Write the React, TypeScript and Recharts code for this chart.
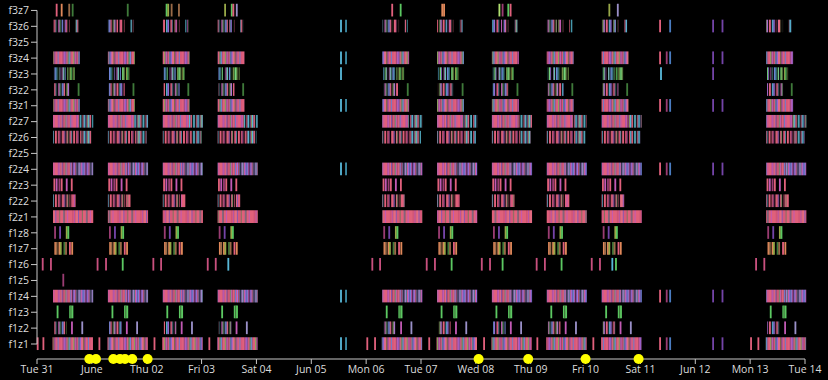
import React from "react";
import { ScatterChart, Scatter, XAxis, YAxis, ReferenceArea, ReferenceLine } from "recharts";

// rows from bottom (index 0) to top
const rowNames = [
  "f1z1", "f1z2", "f1z3", "f1z4", "f1z5", "f1z6", "f1z7", "f1z8",
  "f2z1", "f2z2", "f2z3", "f2z4", "f2z5", "f2z6", "f2z7",
  "f3z1", "f3z2", "f3z3", "f3z4", "f3z5", "f3z6", "f3z7",
];

// x axis: hours since Tue 31 00:00
const dayLabels = [
  "Tue 31", "June", "Thu 02", "Fri 03", "Sat 04", "Jun 05", "Mon 06", "Tue 07",
  "Wed 08", "Thu 09", "Fri 10", "Sat 11", "Jun 12", "Mon 13", "Tue 14",
];
const workDays = [0, 1, 2, 3, 6, 7, 8, 9, 10, 13];

// busy spans repeated on every work day: [row, startHour, endHour, texture]
const dailyBlocks: [string, number, number, string][] = [
  ["f3z6", 7.0, 11.5, "mixgap"], ["f3z6", 12.1, 13.3, "mix"], ["f3z6", 13.9, 14.4, "pinkgap"], ["f3z6", 16.9, 18.2, "cyanmix"],
  ["f3z4", 7.0, 18.8, "mix"],
  ["f3z3", 7.4, 9.3, "cool"], ["f3z3", 9.8, 12.7, "cool"], ["f3z3", 13.2, 16.6, "green"],
  ["f3z2", 7.4, 14.4, "mixgap"],
  ["f3z1", 7.0, 18.8, "mix"],
  ["f2z7", 7.0, 18.5, "pinkmix"], ["f2z7", 18.5, 24.6, "cyanmix"],
  ["f2z6", 7.0, 19.5, "pinkgap"], ["f2z6", 19.5, 24.0, "cyanmix"],
  ["f2z4", 7.0, 15.5, "pinkmix"], ["f2z4", 15.5, 24.6, "violet"],
  ["f2z2", 7.0, 14.6, "pinkgap"], ["f2z2", 15.0, 16.9, "pink"],
  ["f2z1", 7.0, 24.6, "pink"],
  ["f1z4", 7.0, 15.5, "pinkmix"], ["f1z4", 15.5, 24.6, "violet"],
  ["f1z2", 7.5, 13.0, "mixgap"],
  ["f1z1", 6.8, 24.5, "mix"],
];

// single events repeated on every work day: [row, hour, kind]
const dailyTicks: [string, number, string][] = [
  ["f3z2", 18.2, "dg"],
  ["f2z3", 7.6, "pk"], ["f2z3", 8.6, "mg"], ["f2z3", 9.8, "dp"], ["f2z3", 10.8, "pk"], ["f2z3", 13.0, "mg"], ["f2z3", 15.2, "pk"],
  ["f1z8", 7.9, "dp"], ["f1z8", 10.1, "pu"], ["f1z8", 13.0, "ol"], ["f1z8", 13.7, "gr"],
  ["f1z7", 8.0, "or"], ["f1z7", 8.6, "br"], ["f1z7", 9.8, "or"], ["f1z7", 10.4, "ol"],
  ["f1z7", 12.0, "dg"], ["f1z7", 12.7, "br"], ["f1z7", 14.4, "pk"], ["f1z7", 15.4, "or"],
  ["f1z3", 9.0, "gr"], ["f1z3", 14.5, "gr"], ["f1z3", 15.0, "dg"], ["f1z3", 15.5, "gr"],
  ["f1z2", 15.3, "mg"], ["f1z2", 19.8, "lv"],
];

// weekend / off-day events (absolute hours)
const offDayHours: [number, string][] = [
  [133.0, "cy"], [135.2, "tl"], [272.6, "pk"], [275.5, "dp"], [277.0, "bl"], [295.8, "pu"], [299.9, "pu"],
];
const offDayRows = ["f3z4", "f3z1", "f2z4", "f1z4", "f1z1"];
const f3z6Off: [number, string][] = [[133.0, "cy"], [135.2, "tl"], [272.6, "pk"], [277.0, "bl"], [295.8, "pu"], [299.9, "pu"]];
const f3z3Off: [number, string][] = [[133.0, "cy"], [273.0, "cy"], [295.8, "pu"]];

const f1z1Night = [0.3, 2.8, 27.3, 51.4, 75.4, 144.5, 147.9, 171.6, 195.6, 218.9, 243.4, 312.4, 315.6];

const f3z7Ticks: [number, string][] = [
  [8.6, "pk"], [10.8, "or"], [14.1, "br"], [15.6, "dg"], [39.7, "dg"],
  [56.7, "gr"], [57.4, "ol"], [58.9, "br"], [62.1, "br"],
  [82.3, "ol"], [85.2, "gr"], [85.9, "pk"], [87.4, "lv"],
  [155.4, "pk"], [159.1, "gr"], [177.3, "or"], [178.1, "or"],
  [202.3, "lm"], [203.7, "dp"], [206.2, "gr"], [207.2, "pk"],
  [250.4, "ol"], [254.1, "lv"],
];

const f1z6Ticks: [number, string][] = [
  [2.5, "rs"], [6.1, "rs"], [26.5, "rs"], [30.2, "rs"], [37.5, "gr"], [50.9, "rs"], [54.3, "rs"],
  [74.7, "rs"], [78.2, "rs"], [83.7, "cy"], [146.7, "rs"], [150.1, "rs"], [170.5, "rs"], [174.1, "rs"],
  [181.4, "gr"], [194.6, "rs"], [198.2, "rs"], [203.7, "gr"], [218.6, "rs"], [222.2, "rs"], [229.5, "gr"],
  [242.7, "rs"], [246.3, "rs"], [251.7, "cy"], [253.3, "gr"], [314.6, "rs"], [318.2, "rs"],
];
const f1z5Ticks: [number, string][] = [[11.5, "dp"]];

// yellow markers on the time axis
const markerHours = [22.9, 25.8, 33.4, 36.3, 38.5, 41.7, 48.4, 193.2, 214.9, 240.0, 263.2];

const palette: Record<string, string> = {
  pk: "#e0607c", mg: "#c25ab4", dp: "#9a3c72", or: "#e0885a", br: "#9a6a48", ol: "#98a848",
  gr: "#5cc862", dg: "#3f7a3a", lm: "#b0e070", cy: "#58b8d8", tl: "#3f8ea8", bl: "#4a7cc0",
  pu: "#7444a8", lv: "#9a90c8", rs: "#c8507e",
};

const K = "#000";
const textures: Record<string, [string, number][]> = {
  mix: [["#e0607c", 2.5], ["#c25ab4", 1.5], ["#9a68dc", 1.5], ["#e0607c", 2], ["#72d67c", 1], ["#6f84d8", 1.5], ["#e0607c", 3], ["#a8e070", 1],
    ["#c25ab4", 2], ["#d8587a", 2], ["#58b8d8", 1], ["#9a68dc", 1.5], ["#e46a84", 2.5], ["#8c9a48", 0.8], ["#c25ab4", 1.5], ["#e0607c", 2], ["#6f84d8", 1], ["#d8587a", 2]],
  mixgap: [["#e0607c", 2], [K, 1], ["#58b8d8", 1.5], ["#9a68dc", 1.5], [K, 1.2], ["#d8587a", 2], ["#3f95a8", 1], [K, 1.5], ["#c25ab4", 1.5],
    ["#72d67c", 1], [K, 1], ["#6f84d8", 2], ["#e0607c", 1.5], [K, 1.3], ["#a8e070", 1], ["#b070d8", 1.5], [K, 0.8]],
  pink: [["#e0607a", 4], ["#d8587a", 2], ["#c25ab4", 1], ["#e46a80", 3], ["#9a68dc", 0.8], ["#d8587a", 3], ["#72d67c", 0.6], ["#e0607a", 4], ["#58b8d8", 0.8], ["#e0607a", 2.5], ["#c25ab4", 1]],
  pinkgap: [["#e0607a", 2], [K, 1], ["#d8587a", 1.5], ["#c25ab4", 1], [K, 1.4], ["#e0607a", 2.5], ["#9a68dc", 1], [K, 1.2], ["#e46a84", 1.5], ["#72d67c", 0.6], [K, 1], ["#d8587a", 2], ["#58b8d8", 0.7], [K, 0.9]],
  pinkmix: [["#e0607c", 3], ["#c25ab4", 2], ["#e46a84", 2], ["#9a68dc", 1], ["#d8587a", 2.5], ["#72d67c", 0.8], ["#c25ab4", 1.5], ["#e0607c", 2.5], ["#6f84d8", 1], ["#d05a94", 2]],
  cyanmix: [["#58b8d8", 1.5], ["#e0607c", 1.5], [K, 0.8], ["#3f95a8", 1.2], ["#70c8e0", 1], [K, 1], ["#d8587a", 1.2], ["#58b8d8", 2], [K, 0.8], ["#c25ab4", 1], ["#a8e070", 0.6]],
  violet: [["#9a68dc", 1.5], ["#6f84d8", 1.5], ["#c25ab4", 1.5], [K, 0.6], ["#a070e0", 2], ["#e0607c", 1.2], ["#7088d0", 1], [K, 0.8], ["#b090e0", 1.5], ["#3f95a8", 0.8], ["#d05a94", 1.2]],
  cool: [["#6f84d8", 1.5], ["#58b8d8", 1.2], [K, 1], ["#72d67c", 1.5], ["#9a68dc", 1], [K, 1.2], ["#c25ab4", 1.2], ["#70d0c0", 1.5], [K, 0.8]],
  green: [["#72d67c", 1.5], ["#a8e070", 1], [K, 1.2], ["#8c9a48", 1.2], ["#5cc862", 1.5], [K, 1], ["#d0e070", 0.8], ["#3f7a3a", 1.2]],
};

function Texture({ id, stripes }: { id: string; stripes: [string, number][] }) {
  const total = stripes.reduce((s, st) => s + st[1], 0);
  let x = 0;
  return (
    <pattern id={id} patternUnits="userSpaceOnUse" width={total} height={400}>
      {stripes.map(([c, w], i) => {
        const r = <rect key={i} x={x} y={0} width={w} height={400} fill={c} />;
        x += w;
        return r;
      })}
    </pattern>
  );
}

const rowIndex = (name: string) => rowNames.indexOf(name);
const TICK_W = 0.4;

export default function App() {
  const areas: React.ReactNode[] = [];
  let k = 0;
  const span = (row: string, x1: number, x2: number, fill: string) => {
    const r = rowIndex(row);
    areas.push(
      <ReferenceArea key={k++} x1={x1} x2={x2} y1={r - 0.38} y2={r + 0.42} fill={fill} fillOpacity={1} stroke="none" ifOverflow="visible" />
    );
  };
  const tick = (row: string, h: number, kind: string) => span(row, h - TICK_W, h + TICK_W, palette[kind]);

  workDays.forEach((d) => {
    dailyBlocks.forEach(([row, s, e, tex]) => span(row, d * 24 + s, d * 24 + e, `url(#tx-${tex})`));
    dailyTicks.forEach(([row, h, kind]) => tick(row, d * 24 + h, kind));
  });
  offDayRows.forEach((row) => offDayHours.forEach(([h, kind]) => tick(row, h, kind)));
  f3z6Off.forEach(([h, kind]) => tick("f3z6", h, kind));
  f3z3Off.forEach(([h, kind]) => tick("f3z3", h, kind));
  f1z1Night.forEach((h) => tick("f1z1", h, "pk"));
  f3z7Ticks.forEach(([h, kind]) => tick("f3z7", h, kind));
  f1z6Ticks.forEach(([h, kind]) => tick("f1z6", h, kind));
  f1z5Ticks.forEach(([h, kind]) => tick("f1z5", h, kind));

  const markers = markerHours.map((h) => ({ x: h, y: -0.944 }));
  const dayTicks = dayLabels.map((_, i) => i * 24);
  const rowTicks = rowNames.map((_, i) => i);
  const font = { fill: "#dcdcdc", fontSize: 10.5, fontFamily: "'Open Sans', sans-serif" };

  return (
    <div style={{ position: "absolute", left: 0, top: 0, width: 828, height: 380, background: "#000" }}>
      <ScatterChart width={828} height={380} margin={{ top: 2.5, right: 23, bottom: 1, left: 0 }}>
        <defs>
          {Object.keys(textures).map((t) => (
            <Texture key={t} id={`tx-${t}`} stripes={textures[t]} />
          ))}
        </defs>
        {areas}
        <ReferenceLine segment={[{ x: 0, y: 0 }, { x: 0, y: 21 }]} stroke="#c8c8c8" ifOverflow="visible" />
        <XAxis
          type="number"
          dataKey="x"
          domain={[0, 336]}
          ticks={dayTicks}
          interval={0}
          tickFormatter={(v: number) => dayLabels[Math.round(v / 24)]}
          height={20}
          tickSize={5}
          stroke="#c8c8c8"
          tick={font}
        />
        <YAxis
          type="number"
          dataKey="y"
          domain={[-0.944, 21.5]}
          ticks={rowTicks}
          interval={0}
          tickFormatter={(v: number) => rowNames[v]}
          width={37}
          tickSize={6}
          axisLine={false}
          stroke="#c8c8c8"
          tick={font}
        />
        <Scatter
          data={markers}
          isAnimationActive={false}
          shape={(p: any) => <circle cx={p.cx} cy={p.cy} r={5} fill="#ffff00" />}
        />
      </ScatterChart>
    </div>
  );
}
